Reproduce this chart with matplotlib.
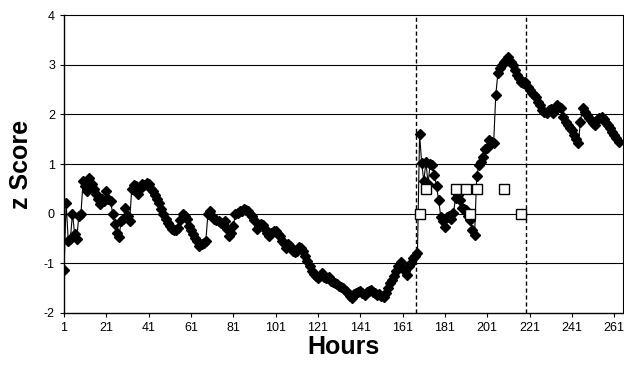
import matplotlib
matplotlib.use("Agg")
import matplotlib.pyplot as plt
import numpy as np

plt.rcParams['font.family'] = ['Liberation Sans', 'DejaVu Sans']
plt.rcParams['axes.unicode_minus'] = False

# z score for each hour
z_score = [
    -1.13, 0.22, -0.55, -0.50, 0.00, -0.40, -0.50, -0.05, 0.00, 0.65,
    0.55, 0.45, 0.72, 0.60, 0.50, 0.40, 0.30, 0.20, 0.30, 0.25,
    0.45, 0.30, 0.25, 0.00, -0.20, -0.38, -0.46, -0.15, -0.10, 0.12,
    -0.05, -0.15, 0.50, 0.58, 0.55, 0.40, 0.50, 0.60, 0.58, 0.62,
    0.60, 0.50, 0.45, 0.38, 0.30, 0.22, 0.10, 0.00, -0.10, -0.18,
    -0.25, -0.30, -0.33, -0.32, -0.28, -0.12, 0.00, -0.05, -0.10, -0.25,
    -0.32, -0.40, -0.48, -0.55, -0.65, -0.62, -0.60, -0.55, 0.00, 0.05,
    -0.05, -0.10, -0.12, -0.15, -0.18, -0.20, -0.15, -0.30, -0.45, -0.38,
    -0.25, 0.00, 0.02, 0.05, 0.05, 0.10, 0.08, 0.05, 0.00, -0.05,
    -0.12, -0.30, -0.25, -0.20, -0.22, -0.30, -0.38, -0.45, -0.38, -0.35,
    -0.35, -0.40, -0.45, -0.55, -0.60, -0.70, -0.62, -0.65, -0.75, -0.78,
    -0.75, -0.68, -0.70, -0.75, -0.85, -0.95, -1.05, -1.15, -1.22, -1.25,
    -1.30, -1.25, -1.20, -1.28, -1.30, -1.27, -1.35, -1.38, -1.40, -1.42,
    -1.45, -1.47, -1.50, -1.55, -1.60, -1.65, -1.70, -1.62, -1.60, -1.58,
    -1.56, -1.60, -1.63, -1.58, -1.55, -1.53, -1.58, -1.60, -1.63, -1.62,
    -1.65, -1.68, -1.60, -1.49, -1.40, -1.33, -1.25, -1.16, -1.05, -0.97,
    -1.09, -1.15, -1.23, -1.06, -1.00, -0.90, -0.85, -0.79, 1.60, 1.02,
    0.65, 1.05, 0.60, 1.00, 0.98, 0.78, 0.55, 0.28, -0.06, -0.15,
    -0.26, -0.06, -0.05, -0.10, 0.01, 0.32, 0.38, 0.28, 0.12, 0.10,
    0.08, -0.05, -0.12, -0.32, -0.42, 0.75, 0.98, 1.05, 1.15, 1.30,
    1.32, 1.49, 1.45, 1.42, 2.39, 2.83, 2.93, 3.00, 3.05, 3.10,
    3.16, 3.05, 3.00, 2.90, 2.80, 2.73, 2.65, 2.63, 2.66, 2.55,
    2.50, 2.43, 2.40, 2.36, 2.25, 2.19, 2.09, 2.05, 2.03, 2.09,
    2.10, 2.03, 2.10, 2.19, 2.15, 2.13, 1.95, 1.85, 1.79, 1.72,
    1.69, 1.59, 1.50, 1.42, 1.85, 2.13, 2.05, 1.99, 1.92, 1.89,
    1.82, 1.79, 1.89, 1.92, 1.95, 1.90, 1.83, 1.78, 1.73, 1.65,
    1.59, 1.52, 1.45,
]
hours = np.arange(1, len(z_score) + 1)

# open squares
event_hours = [169, 172, 186, 191, 193, 196, 209, 217]
event_values = [0, 0.5, 0.5, 0.5, 0, 0.5, 0.5, 0]

# dashed markers
marker_hours = [167.5, 219.5]

x_ticks = list(range(1, 262, 20))
y_ticks = [-2, -1, 0, 1, 2, 3, 4]

fig = plt.figure(figsize=(6.24, 3.68), dpi=100)
ax = fig.add_axes([0.1026, 0.1495, 0.8954, 0.8095])

for y in y_ticks[1:-1]:
    ax.axhline(y, color='black', lw=0.8, zorder=1)
for xm in marker_hours:
    ax.axvline(xm, color='black', lw=1.0, ls=(0, (3, 2)), zorder=1)

ax.plot(hours, z_score, color='black', lw=0.8, marker='D', markersize=5,
        markerfacecolor='black', markeredgecolor='black', zorder=3)
ax.plot(event_hours, event_values, ls='none', marker='s', markersize=7,
        markerfacecolor='white', markeredgecolor='black', markeredgewidth=1.0, zorder=4)

ax.set_xlim(1, 265)
ax.set_ylim(-2, 4)
ax.set_xticks(x_ticks)
ax.set_yticks(y_ticks)
ax.tick_params(axis='both', labelsize=9, direction='out', length=3, width=0.8)

for side in ['top', 'right']:
    ax.spines[side].set_linestyle((0, (1, 1)))
    ax.spines[side].set_linewidth(0.8)
for side in ['left', 'bottom']:
    ax.spines[side].set_linewidth(1.0)

ax.set_xlabel('Hours', fontsize=18, fontweight='bold', labelpad=1)
ax.set_ylabel('z Score', fontsize=18, fontweight='bold', labelpad=8)

fig.savefig('out.png', dpi=100)
